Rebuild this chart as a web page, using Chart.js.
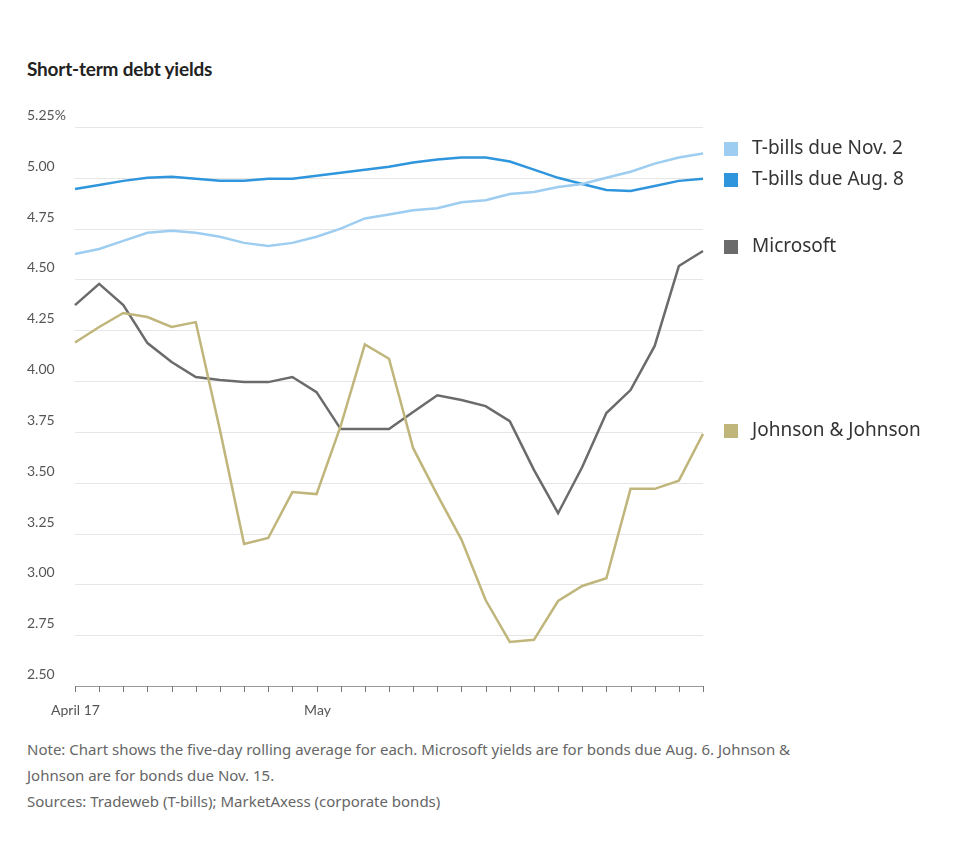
<!DOCTYPE html>
<html>
<head>
<meta charset="utf-8">
<script src="https://cdn.jsdelivr.net/npm/chart.js@4"></script>
<style>
  body { margin: 0; background: #fff; font-family: Lato, "Noto Sans", sans-serif; }
  #title { position: absolute; left: 27px; top: 57px; font-size: 19px; font-weight: bold; color: #222; letter-spacing: -0.2px; }
  #wrap { position: absolute; left: 0; top: 100px; width: 980px; height: 630px; }
  #notes { position: absolute; left: 27px; top: 736px; width: 925px; font-family: "Noto Sans", sans-serif; font-size: 15px; line-height: 26px; color: #666; }
</style>
</head>
<body>
<div id="title">Short-term debt yields</div>
<div id="wrap"><canvas id="c"></canvas></div>
<div id="notes">Note: Chart shows the five-day rolling average for each. Microsoft yields are for bonds due Aug. 6. Johnson &amp;<br>Johnson are for bonds due Nov. 15.<br>Sources: Tradeweb (T-bills); MarketAxess (corporate bonds)</div>
<script>
// ---------- 데이터 ----------
const days = ["Apr 17","Apr 18","Apr 19","Apr 20","Apr 21","Apr 24","Apr 25","Apr 26","Apr 27","Apr 28",
  "May 1","May 2","May 3","May 4","May 5","May 8","May 9","May 10","May 11","May 12",
  "May 15","May 16","May 17","May 18","May 19","May 22","May 23"];
const tickLabels = { 0: "April 17", 10: "May" };
const yTicks = [2.5, 2.75, 3.0, 3.25, 3.5, 3.75, 4.0, 4.25, 4.5, 4.75, 5.0, 5.25];

const tbillNov = [4.625,4.65,4.69,4.73,4.74,4.73,4.71,4.68,4.665,4.68,4.71,4.75,4.80,4.82,4.84,4.85,4.88,4.89,4.92,4.93,4.955,4.97,5.0,5.03,5.07,5.10,5.12];
const tbillAug = [4.945,4.965,4.985,5.0,5.005,4.995,4.985,4.985,4.995,4.995,5.01,5.025,5.04,5.055,5.075,5.09,5.10,5.10,5.08,5.04,5.0,4.97,4.94,4.935,4.96,4.985,4.995];
const microsoft = [4.374,4.478,4.374,4.187,4.094,4.02,4.005,3.995,3.995,4.02,3.946,3.764,3.764,3.764,3.848,3.93,3.907,3.877,3.803,3.563,3.35,3.577,3.843,3.956,4.173,4.566,4.64];
const jnj = [4.19,4.266,4.335,4.315,4.266,4.29,3.76,3.199,3.228,3.454,3.444,3.78,4.18,4.11,3.67,3.44,3.22,2.923,2.717,2.727,2.918,2.992,3.03,3.47,3.47,3.51,3.74];

const legendItems = [
  { text: "T-bills due Nov. 2", color: "#9dcdf0", y: 149 },
  { text: "T-bills due Aug. 8", color: "#2f95dc", y: 180 },
  { text: "Microsoft", color: "#6b6b6b", y: 247 },
  { text: "Johnson & Johnson", color: "#c0b67c", y: 431 }
];

// ---------- 축/범례 직접 그리기 ----------
const decor = {
  id: "decor",
  beforeDatasetsDraw(chart) {
    const { ctx, chartArea: a, scales: { x, y } } = chart;
    ctx.save();
    ctx.font = "14px Lato, sans-serif";
    ctx.textBaseline = "bottom";
    yTicks.forEach((v) => {
      const py = Math.round(y.getPixelForValue(v)) + 0.5;
      ctx.strokeStyle = v === 2.5 ? "#999" : "#e6e6e6";
      ctx.lineWidth = 1;
      ctx.beginPath();
      ctx.moveTo(a.left, py);
      ctx.lineTo(a.right, py);
      ctx.stroke();
      ctx.fillStyle = "#555";
      let t = v.toFixed(2);
      if (v === 5.25) t += "%";
      ctx.fillText(t, 27, py - 5);
    });
    ctx.strokeStyle = "#777";
    ctx.textAlign = "center";
    ctx.textBaseline = "top";
    days.forEach((d, i) => {
      const px = Math.round(x.getPixelForValue(i)) + 0.5;
      ctx.beginPath();
      ctx.moveTo(px, a.bottom);
      ctx.lineTo(px, a.bottom + 6);
      ctx.stroke();
      if (tickLabels[i]) ctx.fillText(tickLabels[i], px, a.bottom + 17);
    });
    ctx.restore();
  },
  afterDraw(chart) {
    const ctx = chart.ctx;
    const top = chart.canvas.getBoundingClientRect().top + window.scrollY;
    ctx.save();
    ctx.font = "19px 'Noto Sans', sans-serif";
    ctx.textBaseline = "middle";
    legendItems.forEach((l) => {
      const cy = l.y - top;
      ctx.fillStyle = l.color;
      ctx.fillRect(724, cy - 7, 14, 14);
      ctx.fillStyle = "#333";
      ctx.fillText(l.text, 752, cy);
    });
    ctx.restore();
  }
};

function line(label, data, color) {
  return { label, data, borderColor: color, borderWidth: 2.5, pointRadius: 0, tension: 0, fill: false };
}

new Chart(document.getElementById("c"), {
  type: "line",
  data: {
    labels: days,
    datasets: [
      line("J&J", jnj, "#c0b67c"),
      line("Microsoft", microsoft, "#6b6b6b"),
      line("T-bills due Nov. 2", tbillNov, "#9dcdf0"),
      line("T-bills due Aug. 8", tbillAug, "#2f95dc")
    ]
  },
  plugins: [decor],
  options: {
    responsive: true,
    maintainAspectRatio: false,
    animation: false,
    layout: { padding: { left: 75, right: 277, top: 27, bottom: 44 } },
    plugins: { legend: { display: false }, tooltip: { enabled: false } },
    scales: {
      x: { display: false, offset: false },
      y: { display: false, min: 2.5, max: 5.25 }
    }
  }
});
</script>
</body>
</html>
